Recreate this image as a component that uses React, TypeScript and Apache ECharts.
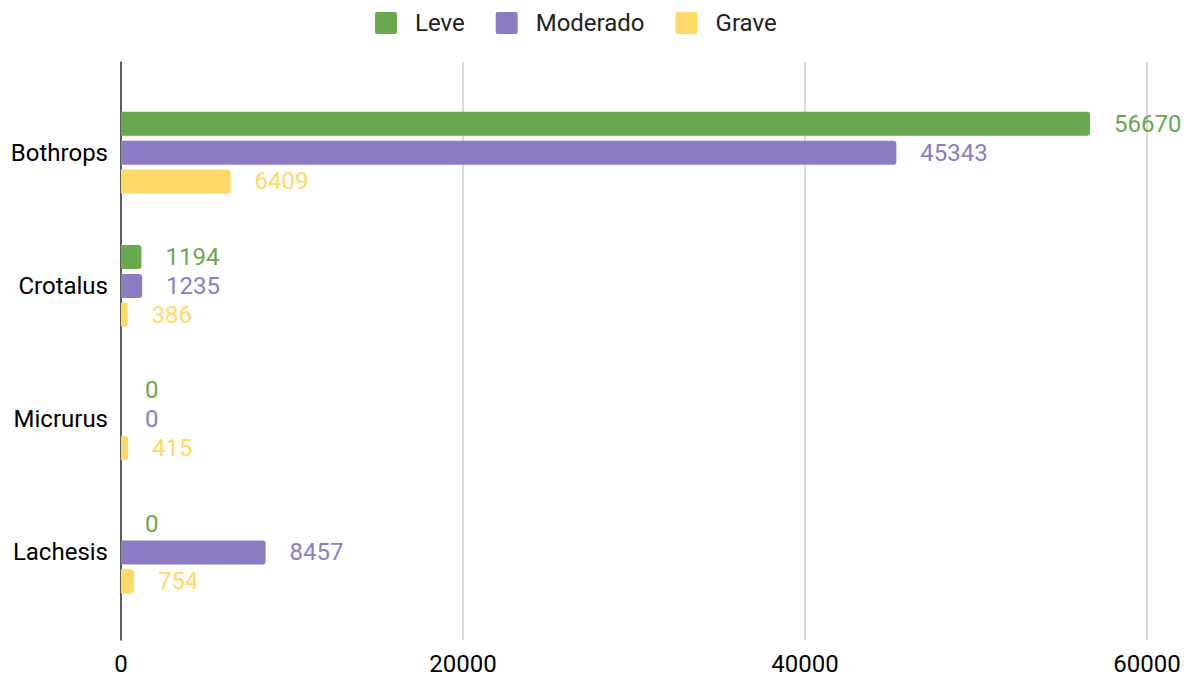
import React, { useEffect, useRef } from "react";
import * as echarts from "echarts";

const categories = ["Bothrops", "Crotalus", "Micrurus", "Lachesis"];
const seriesNames = ["Leve", "Moderado", "Grave"];
const leveValues = [56670, 1194, 0, 0];
const moderadoValues = [45343, 1235, 0, 8457];
const graveValues = [6409, 386, 415, 754];
const xTicks = [0, 20000, 40000, 60000];

const colors = ["#6aa84f", "#8e7cc3", "#ffd966"];
const FONT = "Roboto, 'Noto Sans', sans-serif";
const FS = 24;

export default function App() {
  const ref = useRef<HTMLDivElement>(null);

  useEffect(() => {
    if (!ref.current) return;
    const chart = echarts.init(ref.current, undefined, { renderer: "svg" });
    const values = [leveValues, moderadoValues, graveValues];
    const xMin = xTicks[0];
    const xMax = xTicks[xTicks.length - 1];
    const xStep = xTicks[1] - xTicks[0];

    chart.setOption({
      animation: false,
      backgroundColor: "#ffffff",
      textStyle: { fontFamily: FONT },
      color: colors,
      legend: {
        top: 11,
        left: 375,
        padding: 0,
        icon: "path://M2,0 H20 Q22,0 22,2 V20 Q22,22 20,22 H2 Q0,22 0,20 V2 Q0,0 2,0 Z",
        itemWidth: 22,
        itemHeight: 22,
        itemGap: 31,
        data: seriesNames,
        textStyle: { fontSize: FS, color: "#222222", fontFamily: FONT, padding: [0, 0, 0, 13] },
      },
      grid: [
        // bars
        { left: 121, right: 48, top: 86, height: 533, containLabel: false },
        // frame with gridlines and axis
        { left: 121, right: 48, top: 62, height: 578, containLabel: false },
      ],
      xAxis: [
        {
          gridIndex: 0,
          type: "value",
          min: xMin,
          max: xMax,
          interval: xStep,
          show: false,
        },
        {
          gridIndex: 1,
          type: "value",
          min: xMin,
          max: xMax,
          interval: xStep,
          axisLine: { show: false },
          axisTick: { show: false },
          axisLabel: {
            fontSize: FS,
            color: "#000000",
            margin: 12,
            fontFamily: FONT,
            formatter: (v: number) => String(v),
          },
          splitLine: { show: true, lineStyle: { color: "#cccccc", width: 1.5 } },
        },
      ],
      yAxis: [
        {
          gridIndex: 0,
          type: "category",
          data: categories,
          inverse: true,
          axisLine: { show: false },
          axisTick: { show: false },
          splitLine: { show: false },
          axisLabel: { fontSize: FS, color: "#000000", margin: 13, fontFamily: FONT },
        },
        {
          gridIndex: 1,
          type: "value",
          min: 0,
          max: 1,
          axisLine: { show: true, lineStyle: { color: "#333333", width: 1.5 } },
          axisTick: { show: false },
          axisLabel: { show: false },
          splitLine: { show: false },
        },
      ],
      series: seriesNames.map((name, i) => ({
        name,
        type: "bar",
        xAxisIndex: 0,
        yAxisIndex: 0,
        data: values[i],
        barWidth: 24,
        barGap: "20%",
        z: 3,
        itemStyle: { color: colors[i], borderRadius: [0, 3, 3, 0] },
        label: {
          show: true,
          position: "right",
          distance: 24,
          fontSize: FS,
          color: colors[i],
          fontFamily: FONT,
        },
      })),
    });

    return () => chart.dispose();
  }, []);

  return (
    <div
      ref={ref}
      style={{ position: "fixed", left: 0, top: 0, width: 1195, height: 682 }}
    />
  );
}
